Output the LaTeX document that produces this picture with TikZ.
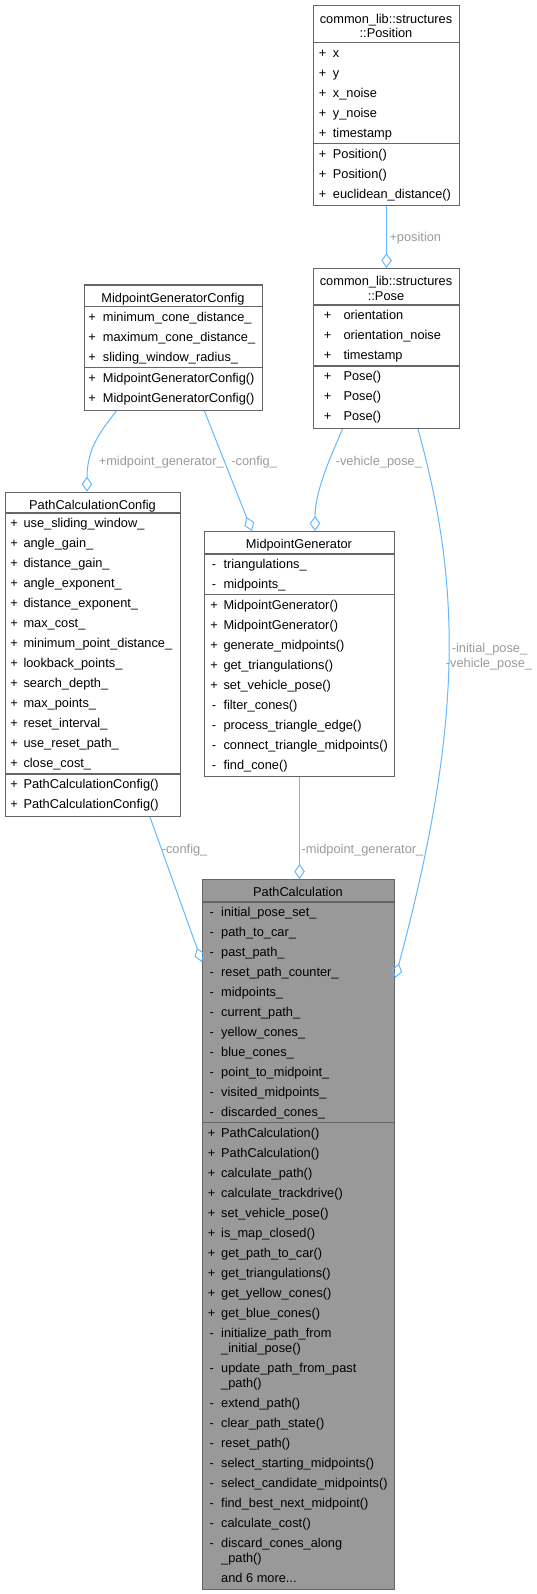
\documentclass[tikz,border=0pt]{standalone}
\usepackage{fontspec}
\setmainfont{Liberation Sans}
\usepackage{xcolor}
\usepackage{tikz}
\usetikzlibrary{arrows.meta,positioning,calc}

\definecolor{edgeblue}{HTML}{63B8FF}
\definecolor{labelgray}{HTML}{9A9A9A}
\definecolor{boxborder}{HTML}{666666}
\definecolor{curfill}{HTML}{999999}
\newcommand{\umlfont}{\fontsize{12.8}{15}\selectfont}

\begin{document}
\begin{tikzpicture}[
    >={Diamond[open,length=15pt,width=10.5pt]},
    x=1pt, y=-1pt,
    classbox/.style={draw=boxborder,line width=1.1pt,fill=white,inner sep=0pt,
                     anchor=north west},
    current/.style={classbox,fill=curfill},
    sepline/.style={draw=boxborder,line width=1.1pt},
    title/.style={anchor=base,inner sep=0pt,font=\umlfont},
    sign/.style={anchor=base,inner sep=0pt,font=\umlfont},
    member/.style={anchor=base west,inner sep=0pt,font=\umlfont},
    assoc/.style={->,edgeblue,line width=1pt},
    rolelabel/.style={anchor=base west,inner sep=0pt,text=labelgray,font=\umlfont},
  ]
  \useasboundingbox (0,0) rectangle (537,1594);

  % --- common_lib::structures::Position (top right) ---
  \node[classbox,minimum width=146.6pt,minimum height=200pt] (position) at (312.7,5) {};
  \node[title] (position-t1) at (386,23.5) {common\_lib::structures};
  \node[title] (position-t2) at (386,38) {::Position};
  \draw[sepline] (312.7,42.7) -- (459.3,42.7);
  \draw[sepline] (312.7,143.7) -- (459.3,143.7);
  \foreach \n [count=\i from 0] in {x,y,x\_noise,y\_noise,timestamp} {
    \node[sign] (position-as\i) at (322.7,57.2+20*\i) {+};
    \node[member] (position-a\i) at (332.7,57.2+20*\i) {\n};
  }
  \foreach \n [count=\i from 0] in {Position(),Position(),euclidean\_distance()} {
    \node[sign] (position-ms\i) at (322.7,158.2+20*\i) {+};
    \node[member] (position-m\i) at (332.7,158.2+20*\i) {\n};
  }

  % --- common_lib::structures::Pose ---
  \node[classbox,minimum width=146.6pt,minimum height=160pt] (pose) at (312.7,268) {};
  \node[title] (pose-t1) at (386,286) {common\_lib::structures};
  \node[title] (pose-t2) at (386,300.5) {::Pose};
  \draw[sepline] (312.7,305) -- (459.3,305);
  \draw[sepline] (312.7,366) -- (459.3,366);
  \foreach \n [count=\i from 0] in {orientation,orientation\_noise,timestamp} {
    \node[sign] (pose-as\i) at (327.5,319.5+20*\i) {+};
    \node[member] (pose-a\i) at (343.3,319.5+20*\i) {\n};
  }
  \foreach \n [count=\i from 0] in {Pose(),Pose(),Pose()} {
    \node[sign] (pose-ms\i) at (327.5,380.5+20*\i) {+};
    \node[member] (pose-m\i) at (343.3,380.5+20*\i) {\n};
  }

  % --- MidpointGeneratorConfig ---
  \node[classbox,minimum width=178pt,minimum height=125.5pt] (mgconfig) at (84,284.5) {};
  \node[title] (mgconfig-t) at (173,302) {MidpointGeneratorConfig};
  \draw[sepline] (84,306.5) -- (262,306.5);
  \draw[sepline] (84,367.5) -- (262,367.5);
  \foreach \n [count=\i from 0] in {minimum\_cone\_distance\_,maximum\_cone\_distance\_,
                                    sliding\_window\_radius\_} {
    \node[sign] (mgconfig-as\i) at (92,321+20*\i) {+};
    \node[member] (mgconfig-a\i) at (102.7,321+20*\i) {\n};
  }
  \foreach \n [count=\i from 0] in {MidpointGeneratorConfig(),MidpointGeneratorConfig()} {
    \node[sign] (mgconfig-ms\i) at (92,382+20*\i) {+};
    \node[member] (mgconfig-m\i) at (102.7,382+20*\i) {\n};
  }

  % --- PathCalculationConfig (left) ---
  \node[classbox,minimum width=175pt,minimum height=324.3pt] (pcconfig) at (5,491.7) {};
  \node[title] (pcconfig-t) at (92.5,509.2) {PathCalculationConfig};
  \draw[sepline] (5,513) -- (180,513);
  \draw[sepline] (5,774) -- (180,774);
  \foreach \n [count=\i from 0] in {use\_sliding\_window\_,angle\_gain\_,distance\_gain\_,
      angle\_exponent\_,distance\_exponent\_,max\_cost\_,minimum\_point\_distance\_,
      lookback\_points\_,search\_depth\_,max\_points\_,reset\_interval\_,
      use\_reset\_path\_,close\_cost\_} {
    \node[sign] (pcconfig-as\i) at (14,527.5+20*\i) {+};
    \node[member] (pcconfig-a\i) at (23.3,527.5+20*\i) {\n};
  }
  \foreach \n [count=\i from 0] in {PathCalculationConfig(),PathCalculationConfig()} {
    \node[sign] (pcconfig-ms\i) at (14,788.5+20*\i) {+};
    \node[member] (pcconfig-m\i) at (23.3,788.5+20*\i) {\n};
  }

  % --- MidpointGenerator (middle) ---
  \node[classbox,minimum width=190pt,minimum height=245pt] (midgen) at (204,531) {};
  \node[title] (midgen-t) at (299,548.5) {MidpointGenerator};
  \draw[sepline] (204,554) -- (394,554);
  \draw[sepline] (204,594.5) -- (394,594.5);
  \foreach \n [count=\i from 0] in {triangulations\_,midpoints\_} {
    \node[sign] (midgen-as\i) at (214,568.5+20*\i) {-};
    \node[member] (midgen-a\i) at (223.3,568.5+20*\i) {\n};
  }
  \foreach \s/\n [count=\i from 0] in {+/MidpointGenerator(),+/MidpointGenerator(),
      +/generate\_midpoints(),+/get\_triangulations(),+/set\_vehicle\_pose(),
      -/filter\_cones(),-/process\_triangle\_edge(),-/connect\_triangle\_midpoints(),
      -/find\_cone()} {
    \node[sign] (midgen-ms\i) at (214,609+20*\i) {\s};
    \node[member] (midgen-m\i) at (223.3,609+20*\i) {\n};
  }

  % --- PathCalculation (the documented class, bottom) ---
  \node[current,minimum width=192pt,minimum height=710pt] (pathcalc) at (202,879) {};
  \node[title] (pathcalc-t) at (298,896.5) {PathCalculation};
  \draw[sepline] (202,902) -- (394,902);
  \draw[sepline] (202,1122.5) -- (394,1122.5);
  \foreach \n [count=\i from 0] in {initial\_pose\_set\_,path\_to\_car\_,past\_path\_,
      reset\_path\_counter\_,midpoints\_,current\_path\_,yellow\_cones\_,blue\_cones\_,
      point\_to\_midpoint\_,visited\_midpoints\_,discarded\_cones\_} {
    \node[sign] (pathcalc-as\i) at (211.7,916.5+20*\i) {-};
    \node[member] (pathcalc-a\i) at (221,916.5+20*\i) {\n};
  }
  \foreach \s/\n/\o [count=\i from 0] in {+/PathCalculation()/0,+/PathCalculation()/20,
      +/calculate\_path()/40,+/calculate\_trackdrive()/60,+/set\_vehicle\_pose()/80,
      +/is\_map\_closed()/100,+/get\_path\_to\_car()/120,+/get\_triangulations()/140,
      +/get\_yellow\_cones()/160,+/get\_blue\_cones()/180,
      -/initialize\_path\_from/200,-/update\_path\_from\_past/235,
      -/extend\_path()/270,-/clear\_path\_state()/290,-/reset\_path()/310,
      -/select\_starting\_midpoints()/330,-/select\_candidate\_midpoints()/350,
      -/find\_best\_next\_midpoint()/370,-/calculate\_cost()/390,
      -/discard\_cones\_along/410} {
    \node[sign] (pathcalc-ms\i) at (211.7,1137+\o) {\s};
    \node[member] (pathcalc-m\i) at (221,1137+\o) {\n};
  }
  \node[member] (pathcalc-m10b) at (221,1352) {\_initial\_pose()};
  \node[member] (pathcalc-m11b) at (221,1387) {\_path()};
  \node[member] (pathcalc-m19b) at (221,1562) {\_path()};
  \node[member] (pathcalc-more) at (221,1582) {and 6 more...};

  % --- aggregation connectors (diamond at the owning class) ---
  \draw[assoc] (position.south) -- (pose.north);
  \draw[assoc] ($(mgconfig.south west)+(32.4,0)$)
      .. controls +(-14,18) and +(0,-45) .. ($(pcconfig.north west)+(82,0)$);
  \draw[assoc] ($(mgconfig.south west)+(120.5,0)$) -- ($(midgen.north west)+(48,0)$);
  \draw[assoc] ($(pose.south west)+(29.8,0)$)
      .. controls +(-12,28) and +(0,-40) .. ($(midgen.north west)+(111,0)$);
  \draw[assoc] ($(pose.south west)+(105.3,0)$)
      .. controls +(42,152) and +(70,-260) .. ($(pathcalc.north east)+(0,99)$);
  \draw[assoc] ($(pcconfig.south west)+(145,0)$) -- ($(pathcalc.north west)+(0,83)$);
  \draw[assoc] (midgen.south) -- (midgen.south |- pathcalc.north);

  % --- role labels ---
  \node[rolelabel] (lbl-position) at (389.3,242) {+position};
  \node[rolelabel] (lbl-mgpc) at (98.6,465.5) {+midpoint\_generator\_};
  \node[rolelabel] (lbl-mgconfig) at (231.2,465.5) {-config\_};
  \node[rolelabel] (lbl-vehpose) at (335.6,465.5) {-vehicle\_pose\_};
  \node[rolelabel,anchor=base] (lbl-initpose) at (489.5,652) {-initial\_pose\_};
  \node[rolelabel,anchor=base] (lbl-vehpose2) at (489,667) {-vehicle\_pose\_};
  \node[rolelabel] (lbl-pcconfig) at (161.6,853.5) {-config\_};
  \node[rolelabel] (lbl-midgen) at (301.4,853.5) {-midpoint\_generator\_};

\end{tikzpicture}
\end{document}
